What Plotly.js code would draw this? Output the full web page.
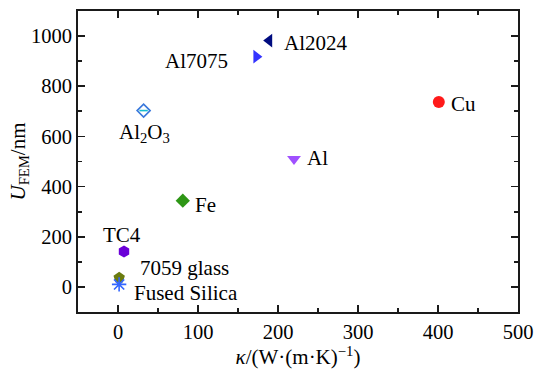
<!DOCTYPE html>
<html>
<head>
<meta charset="utf-8">
<script src="https://cdn.plot.ly/plotly-3.0.1.min.js"></script>
<style>html,body{margin:0;padding:0;background:#fff;}#plot{width:535px;height:374px;}</style>
</head>
<body>
<div id="plot"></div>
<script>
// Data
const materials = ["Cu", "Al2024", "Al7075", "Al2O3", "Al", "Fe", "TC4", "7059 glass", "Fused Silica"];
const labels = ["Cu", "Al2024", "Al7075", "Al<sub>2</sub>O<sub>3</sub>", "Al", "Fe", "TC4", "7059 glass", "Fused Silica"];
const kappa = [401, 189, 173, 32, 220, 81, 7.5, 1.5, 1.4];
const uFem = [737, 982, 918, 703, 510, 344, 141, 37, 10];

// Styles
const symbols = ["circle", "triangle-left", "triangle-right", "diamond-open", "triangle-down", "diamond", "hexagon", "pentagon", "asterisk-open"];
const colors = ["#ff1a1a", "#000c80", "#3333ff", "#3a78dc", "#a050ff", "#2e9616", "#6a00d8", "#6b7c10", "#3366ff"];
const sizes = [12, 12, 12, 10, 12, 11, 12, 12, 12];
// label placement: [xanchor, xshift, yshift]
const labelPos = [
  ["left", 10, -2], ["left", 13, -2], ["right", -26, -4], ["center", 1, -22],
  ["left", 11, 1], ["left", 10, -4], ["center", -2, 17], ["left", 19, 10], ["left", 13, -9]
];

const FONT = "Liberation Serif";
const TXT = "#000";
const traces = materials.map((m, i) => ({
  type: "scatter", mode: "markers", name: m,
  x: [kappa[i]], y: [uFem[i]],
  marker: {
    symbol: symbols[i], size: sizes[i], color: colors[i],
    line: {color: colors[i], width: (symbols[i].endsWith("open") ? 1.6 : 0)}
  },
  showlegend: false, hoverinfo: "x+y+name"
}));
// horizontal bar inside the Al2O3 open diamond
const iA = materials.indexOf("Al2O3");
traces.push({
  type: "scatter", mode: "markers", x: [kappa[iA]], y: [uFem[iA]],
  marker: {symbol: "line-ew-open", size: 6, line: {color: colors[iA], width: 1.6}},
  showlegend: false, hoverinfo: "skip"
});

const annotations = materials.map((m, i) => ({
  x: kappa[i], y: uFem[i], xref: "x", yref: "y", text: labels[i], showarrow: false,
  xanchor: labelPos[i][0], yanchor: "middle", xshift: labelPos[i][1], yshift: labelPos[i][2],
  font: {family: FONT, size: 21, color: TXT}
}));

const axisCommon = {
  showgrid: false, zeroline: false, showline: true, linecolor: "#1a1a1a", linewidth: 2,
  mirror: "ticks", ticks: "inside", ticklen: 7, tickwidth: 1.8, tickcolor: "#1a1a1a",
  tickfont: {family: FONT, size: 20.5, color: TXT}
};

const layout = {
  width: 535, height: 374,
  margin: {l: 78, r: 17, t: 11, b: 62},
  paper_bgcolor: "#fff", plot_bgcolor: "#fff",
  font: {family: FONT, size: 21, color: TXT},
  xaxis: Object.assign({}, axisCommon, {
    range: [-50, 500], tick0: 0, dtick: 100,
    minor: {dtick: 50, ticks: "inside", ticklen: 4, tickwidth: 1.8, tickcolor: "#1a1a1a"},
    title: {text: "<i>κ</i>/(W·(m·K)<sup>−1</sup>)", font: {family: FONT, size: 21, color: TXT}, standoff: 5}
  }),
  yaxis: Object.assign({}, axisCommon, {
    range: [-100, 1100], tick0: 0, dtick: 200,
    minor: {dtick: 100, ticks: "inside", ticklen: 4, tickwidth: 1.8, tickcolor: "#1a1a1a"},
    title: {text: "<i>U</i><sub>FEM</sub>/nm", font: {family: FONT, size: 21, color: TXT}, standoff: 0}
  }),
  annotations: annotations
};

Plotly.newPlot("plot", traces, layout, {displayModeBar: false, staticPlot: true});
</script>
</body>
</html>
